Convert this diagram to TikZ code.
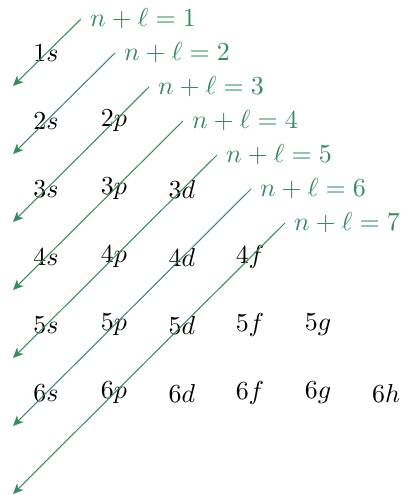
\documentclass[tikz,border=0pt]{standalone}
\usetikzlibrary{arrows.meta}
\definecolor{madgreen}{RGB}{50,143,92}
\begin{document}
\begin{tikzpicture}[x=0.385pt,y=-0.385pt,
  orb/.style={inner sep=0pt},
  diag/.style={draw=madgreen,-{Stealth[length=4pt,width=3.6pt,inset=1.2pt]},line width=0.4pt},
  nlabel/.style={text=madgreen,anchor=west}]
\useasboundingbox (0,0) rectangle (403,495);
% orbitals
\node[orb] (o1s) at (46,53) {$1s$};
\node[orb] (o2s) at (46,121) {$2s$};
\node[orb] (o2p) at (114,121) {$2p$};
\node[orb] (o3s) at (46,189) {$3s$};
\node[orb] (o3p) at (114,189) {$3p$};
\node[orb] (o3d) at (182,189) {$3d$};
\node[orb] (o4s) at (46,257) {$4s$};
\node[orb] (o4p) at (114,257) {$4p$};
\node[orb] (o4d) at (182,257) {$4d$};
\node[orb] (o4f) at (250,257) {$4f$};
\node[orb] (o5s) at (46,325) {$5s$};
\node[orb] (o5p) at (114,325) {$5p$};
\node[orb] (o5d) at (182,325) {$5d$};
\node[orb] (o5f) at (250,325) {$5f$};
\node[orb] (o5g) at (318,325) {$5g$};
\node[orb] (o6s) at (46,393) {$6s$};
\node[orb] (o6p) at (114,393) {$6p$};
\node[orb] (o6d) at (182,393) {$6d$};
\node[orb] (o6f) at (250,393) {$6f$};
\node[orb] (o6g) at (318,393) {$6g$};
\node[orb] (o6h) at (386,393) {$6h$};
% diagonals
\foreach \k in {1,...,7}{
  \coordinate (s\k) at ({81+34*(\k-1)},{19+34*(\k-1)});
  \coordinate (e\k) at (13,{86+68*(\k-1)});
  \draw[diag] (s\k) -- (e\k);
  \node[nlabel] (lab\k) at (s\k) {$n+\ell=\k$};
}
\end{tikzpicture}
\end{document}
